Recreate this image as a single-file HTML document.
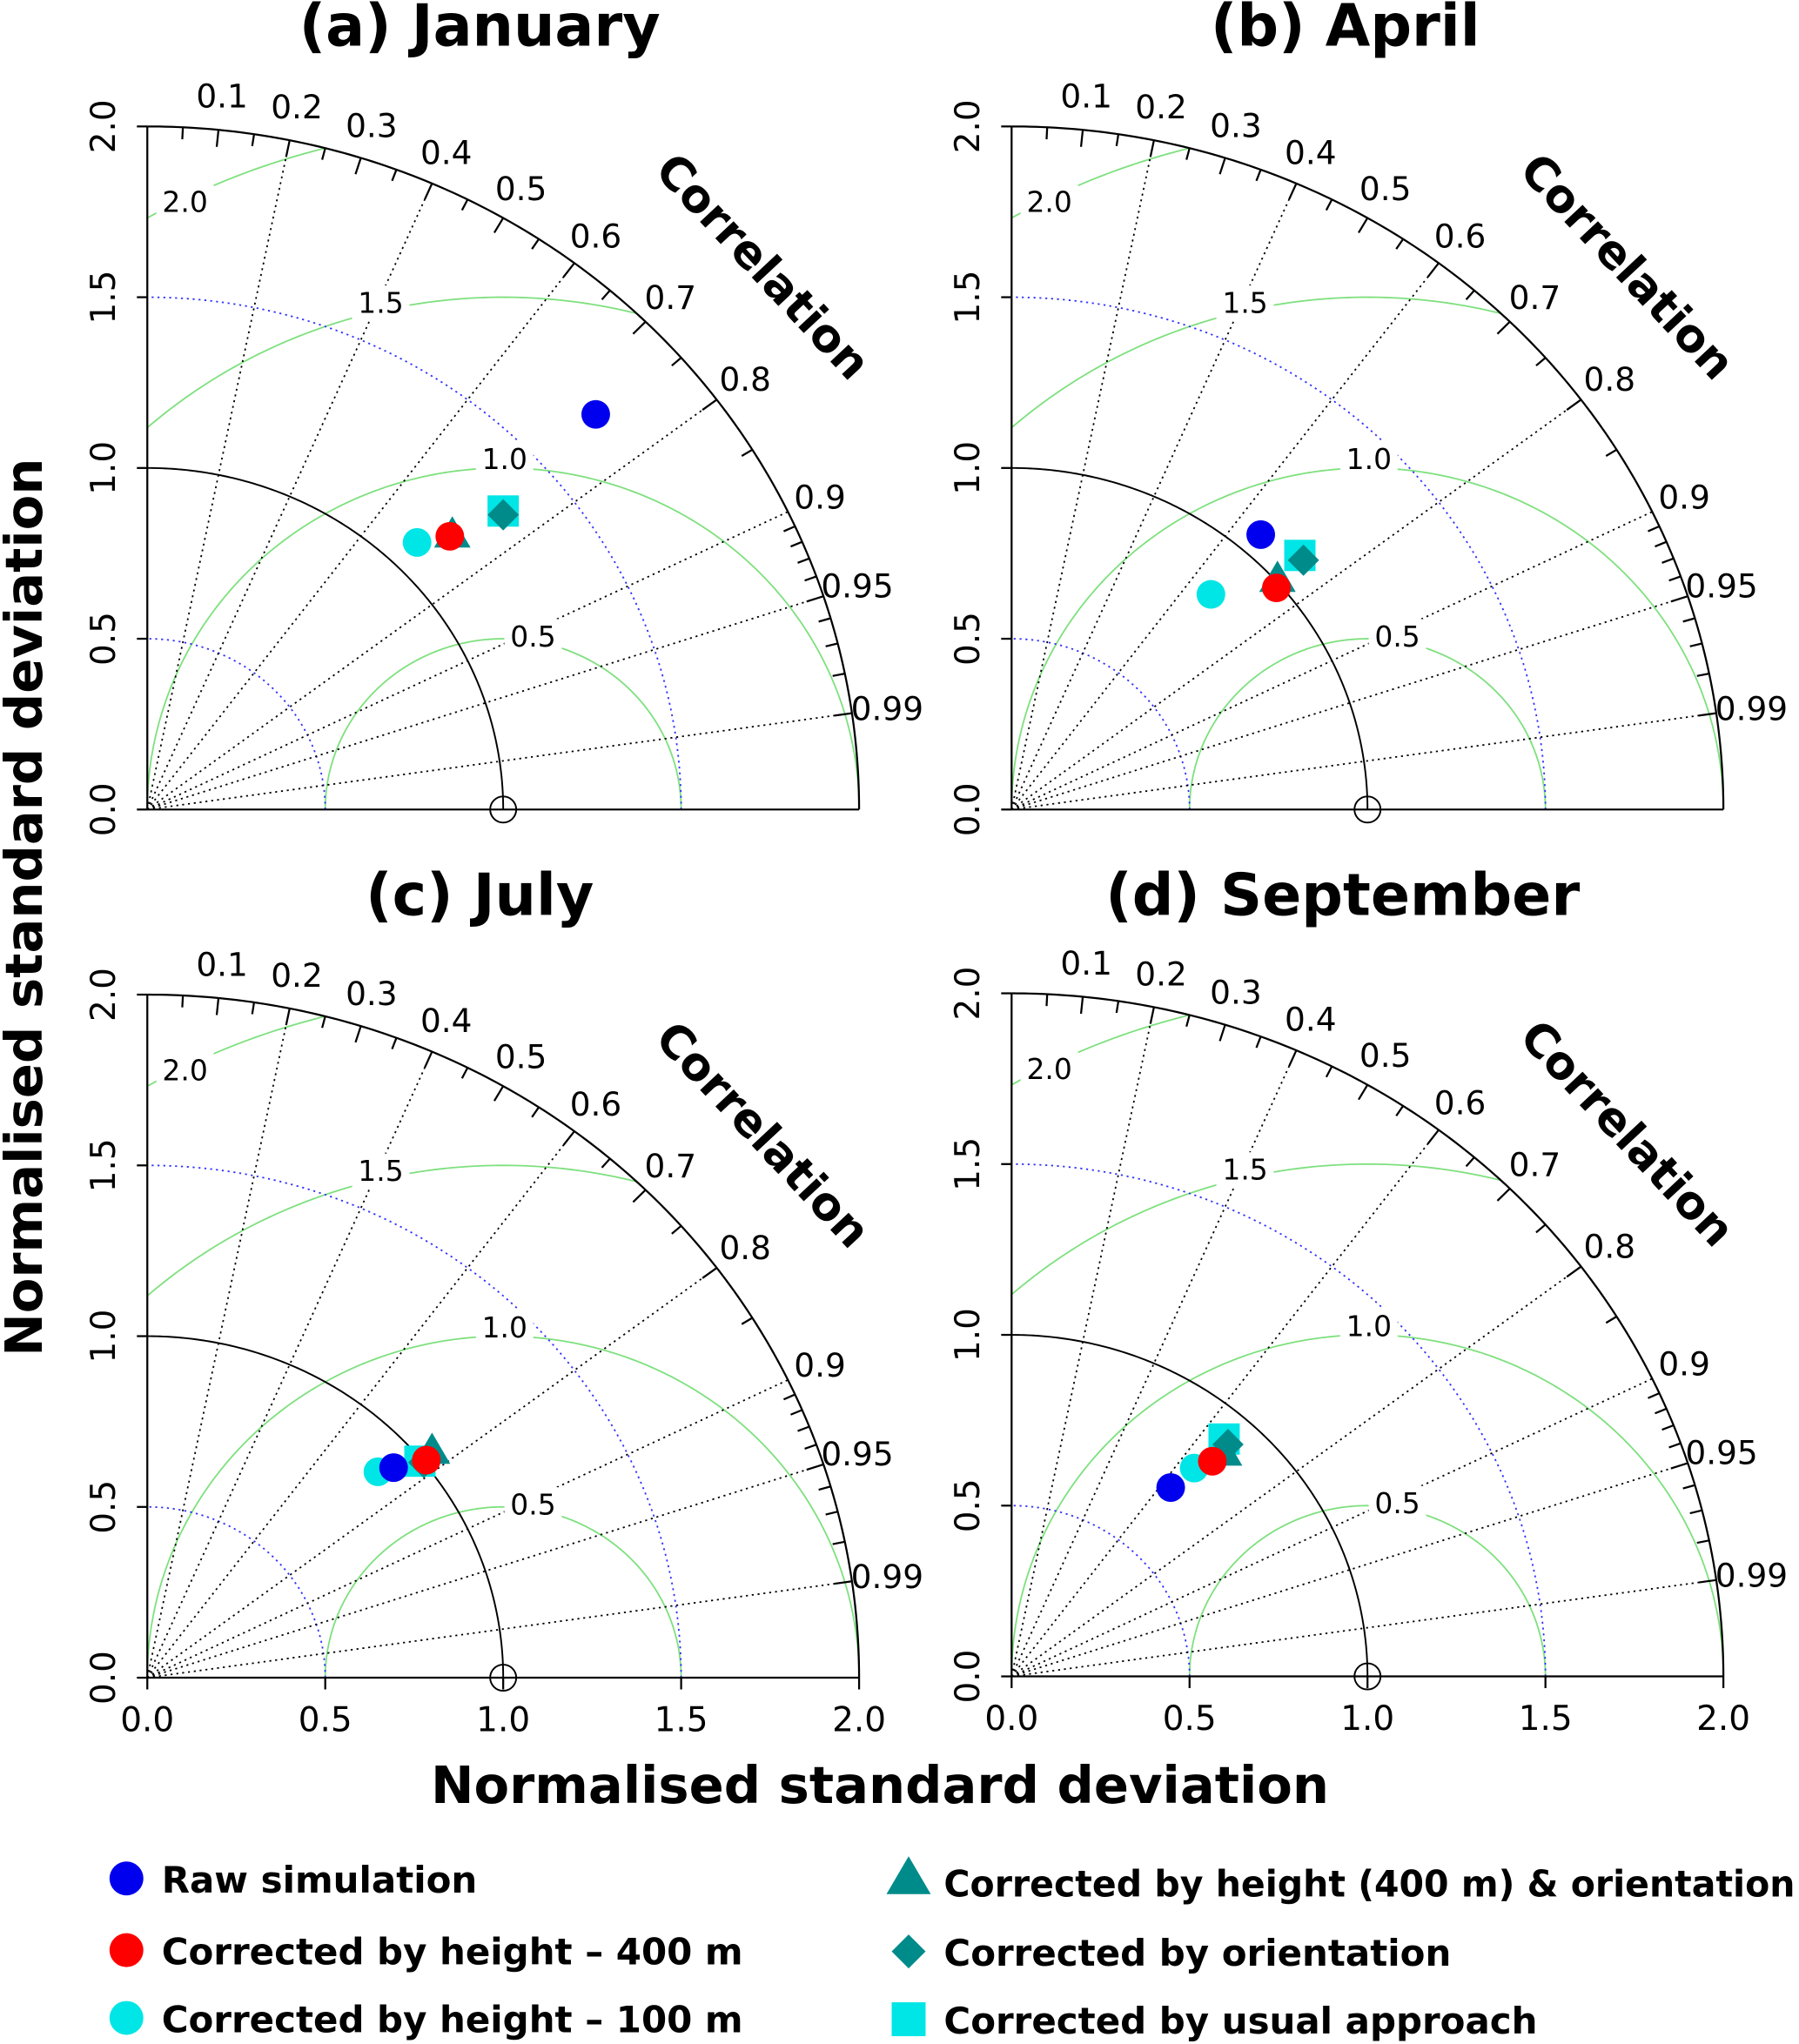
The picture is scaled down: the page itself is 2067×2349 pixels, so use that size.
<!DOCTYPE html>
<html><head><meta charset="utf-8">
<style>
html,body{margin:0;padding:0;background:#fff;}
svg{display:block;font-family:"DejaVu Sans","Liberation Sans",sans-serif;}
</style></head>
<body>
<svg id="chart" xmlns="http://www.w3.org/2000/svg" width="2067" height="2349" viewBox="0 0 1380 1568" preserveAspectRatio="none">
</svg>
<script>
// ---- data ----
const panelTitles = ["(a) January","(b) April","(c) July","(d) September"];
const seriesNames = ["Raw simulation","Corrected by height \u2013 400 m","Corrected by height \u2013 100 m","Corrected by height (400 m) & orientation","Corrected by orientation","Corrected by usual approach"];
const rawSim   = [[1.26,1.157],[0.70,0.805],[0.692,0.615],[0.447,0.553]];
const h400     = [[0.85,0.80],[0.744,0.649],[0.784,0.637],[0.564,0.63]];
const h100     = [[0.758,0.782],[0.56,0.63],[0.648,0.603],[0.513,0.61]];
const hOrient  = [[0.857,0.79],[0.747,0.66],[0.80,0.649],[0.597,0.64]];
const orient   = [[1.0,0.863],[0.82,0.73],[0.777,0.63],[0.608,0.679]];
const usual    = [[1.0,0.874],[0.81,0.744],[0.766,0.634],[0.597,0.695]];
const corrTicks = [0.1,0.2,0.3,0.4,0.5,0.6,0.7,0.8,0.9,0.95,0.99];
const corrLines = [0.2,0.4,0.6,0.8,0.9,0.95,0.99];
const sdTicks = [0.0,0.5,1.0,1.5,2.0];
const rmsLevels = [0.5,1.0,1.5,2.0];

const NS="http://www.w3.org/2000/svg";
const svg=document.getElementById('chart');
function mk(tag,attrs,parent){const e=document.createElementNS(NS,tag);for(const k in attrs)e.setAttribute(k,attrs[k]);(parent||svg).appendChild(e);return e;}
const SX=273, SY=262;
const origins=[[113,621],[776,621],[113,1287],[776,1286]];
const titlePos=[[368,35],[1032,35],[368,702],[1030,702]];
const rmsLabelPos=[[1.084,0.508],[1.004,1.027],[0.656,1.485],[0.106,1.78]];

origins.forEach((o,pi)=>{
  const g=mk('g',{});
  
  
  const X=v=>o[0]+v*SX, Y=v=>o[1]-v*SY;
  const cid='clip'+pi;
  const cp=mk('clipPath',{id:cid},g);
  let d='M'+X(0)+','+Y(0);
  for(let a=0;a<=90;a+=1){const t=a*Math.PI/180;d+=' L'+X(2*Math.cos(t))+','+Y(2*Math.sin(t));}
  mk('path',{d:d+'Z'},cp);
  function arcPath(cx,r,a0,a1){let s='';for(let a=a0;a<=a1+1e-9;a+=0.5){const t=a*Math.PI/180;s+=(s?' L':'M')+X(cx+r*Math.cos(t))+','+Y(r*Math.sin(t));}return s;}
  const cg=mk('g',{'clip-path':'url(#'+cid+')'},g);
  rmsLevels.forEach(r=>{const p=mk('path',{d:arcPath(1,r,0,180),fill:'none',stroke:'#7ee07e','stroke-width':1.2},cg);
    });
  [0.5,1.5].forEach(r=>{const p=mk('path',{d:arcPath(0,r,0,90),fill:'none',stroke:'#3030ff','stroke-width':1.2,'stroke-dasharray':'1.5,3'},g);
    });
  corrLines.forEach(c=>{const t=Math.acos(c);mk('line',{x1:X(0),y1:Y(0),x2:X(2*Math.cos(t)),y2:Y(2*Math.sin(t)),stroke:'#000','stroke-width':1.2,'stroke-dasharray':'1.5,3'},g);});
  mk('path',{d:arcPath(0,1,0,90),fill:'none',stroke:'#000','stroke-width':1.3},g);
  const oa=mk('path',{d:arcPath(0,2,0,90),fill:'none',stroke:'#000','stroke-width':1.5},g);
  
  const minor=[];for(let i=1;i<18;i++)minor.push(i*0.05);for(let i=91;i<=99;i++)minor.push(i/100);
  minor.forEach(c=>{const t=Math.acos(c);const major=corrTicks.some(m=>Math.abs(m-c)<1e-6);const r2=major?1.95:1.965;
    mk('line',{x1:X(2*Math.cos(t)),y1:Y(2*Math.sin(t)),x2:X(r2*Math.cos(t)),y2:Y(r2*Math.sin(t)),stroke:'#000','stroke-width':1.5},g);});
  corrTicks.forEach(c=>{const t=Math.acos(c);const tx=mk('text',{x:X(2.1*Math.cos(t)),y:Y(2.1*Math.sin(t))+9,'text-anchor':'middle','font-size':25},g);tx.textContent=String(c);
    });
  const cx=X(1.73), cy=Y(1.59);
  const ct=mk('text',{x:cx,y:cy+12,'text-anchor':'middle','font-size':35,'font-weight':'bold',transform:'rotate(47 '+cx+' '+cy+')'},g);
  ct.textContent='Correlation';
  rmsLevels.forEach((r,i)=>{const p=rmsLabelPos[i];mk('rect',{x:X(p[0])-22,y:Y(p[1])-13,width:44,height:26,fill:'#fff'},g);
    const tx=mk('text',{x:X(p[0]),y:Y(p[1])+8,'text-anchor':'middle','font-size':22},g);tx.textContent=r.toFixed(1);
    });
  mk('line',{x1:X(0),y1:Y(0),x2:X(0),y2:Y(2),stroke:'#000','stroke-width':1.5},g);
  mk('line',{x1:X(0),y1:Y(0),x2:X(2),y2:Y(0),stroke:'#000','stroke-width':1.5},g);
  sdTicks.forEach(v=>{
    mk('line',{x1:X(0)-8,y1:Y(v),x2:X(0),y2:Y(v),stroke:'#000','stroke-width':1.5},g);
    const tx=mk('text',{x:0,y:0,'text-anchor':'middle','font-size':26,transform:'translate('+(X(0)-25)+','+Y(v)+') rotate(-90)'},g);tx.textContent=v.toFixed(1);
    
    if(pi>=2){mk('line',{x1:X(v),y1:Y(0),x2:X(v),y2:Y(0)+9,stroke:'#000','stroke-width':1.5},g);
      const xt=mk('text',{x:X(v),y:Y(0)+41,'text-anchor':'middle','font-size':26},g);xt.textContent=v.toFixed(1);
      }
  });
  mk('circle',{cx:X(1),cy:Y(0),r:10,fill:'none',stroke:'#000','stroke-width':1.3},g);
  const tt=mk('text',{x:titlePos[pi][0],y:titlePos[pi][1],'text-anchor':'middle','font-size':44.5,'font-weight':'bold'},g);
  tt.textContent=panelTitles[pi];
  let p;
  p=usual[pi];let m=mk('rect',{x:X(p[0])-12,y:Y(p[1])-12,width:24,height:24,fill:'#00e5e5'},g);
  
  p=hOrient[pi];m=mk('polygon',{points:[X(p[0]),Y(p[1])-18,X(p[0])-14,Y(p[1])+6,X(p[0])+14,Y(p[1])+6].join(','),fill:'#008b8b'},g);
  
  p=orient[pi];m=mk('polygon',{points:[X(p[0]),Y(p[1])-12,X(p[0])+12,Y(p[1]),X(p[0]),Y(p[1])+12,X(p[0])-12,Y(p[1])].join(','),fill:'#008b8b'},g);
  
  p=h100[pi];m=mk('circle',{cx:X(p[0]),cy:Y(p[1]),r:11,fill:'#00e5e5'},g);
  
  p=rawSim[pi];m=mk('circle',{cx:X(p[0]),cy:Y(p[1]),r:11,fill:'#0000ee'},g);
  
  p=h400[pi];m=mk('circle',{cx:X(p[0]),cy:Y(p[1]),r:11,fill:'#ff0000'},g);
  
});
let t=mk('text',{x:675,y:1383,'text-anchor':'middle','font-size':39.5,'font-weight':'bold'});t.textContent='Normalised standard deviation';

t=mk('text',{x:0,y:0,'text-anchor':'middle','font-size':39.5,'font-weight':'bold',transform:'translate(32,696) rotate(-90)'});t.textContent='Normalised standard deviation';

const lg=mk('g',{});
const legPos=[[97,1441],[97,1496],[97,1548],[697,1444],[697,1497],[697,1549]];
seriesNames.forEach((n,i)=>{const [x,y]=legPos[i];let m;
  if(i===0)m=mk('circle',{cx:x,cy:y,r:13,fill:'#0000ee'},lg);
  else if(i===1)m=mk('circle',{cx:x,cy:y,r:13,fill:'#ff0000'},lg);
  else if(i===2)m=mk('circle',{cx:x,cy:y,r:13,fill:'#00e5e5'},lg);
  else if(i===3)m=mk('polygon',{points:[x,y-20,x-17,y+9,x+17,y+9].join(','),fill:'#008b8b'},lg);
  else if(i===4)m=mk('polygon',{points:[x,y-13,x+13,y,x,y+13,x-13,y].join(','),fill:'#008b8b'},lg);
  else m=mk('rect',{x:x-13,y:y-13,width:26,height:26,fill:'#00e5e5'},lg);
  
  const tx=mk('text',{x:x+27,y:y+11,'font-size':28,'font-weight':'bold'},lg);tx.textContent=n;
  if(i===3){tx.setAttribute('textLength','653');tx.setAttribute('lengthAdjust','spacingAndGlyphs');}
  
});
</script>
</body></html>
